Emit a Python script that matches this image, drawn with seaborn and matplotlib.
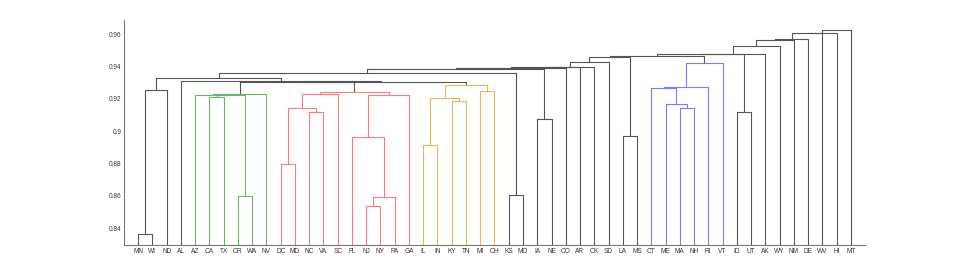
import matplotlib
matplotlib.use("Agg")
import matplotlib.pyplot as plt
import seaborn as sns
import pandas as pd

# ---- data ---------------------------------------------------------------
leaves = ["MN", "WI", "ND", "AL", "AZ", "CA", "TX", "OR", "WA", "NV", "DC", "MD",
          "NC", "VA", "SC", "FL", "NJ", "NY", "PA", "GA", "IL", "IN", "KY", "TN",
          "MI", "OH", "KS", "MO", "IA", "NE", "CO", "AR", "OK", "SD", "LA", "MS",
          "CT", "ME", "MA", "NH", "RI", "VT", "ID", "UT", "AK", "WY", "NM", "DE",
          "WV", "HI", "MT"]

# merges: node n<i> joins merge_a[i] and merge_b[i] at merge_h[i]
merge_a = ["MN", "n0", "OR", "CA", "n3", "AZ", "n5",
           "DC", "NC", "n7", "n9", "NJ", "n11", "FL", "n13", "n10",
           "IL", "KY", "n16", "MI", "n18",
           "n6", "n21", "AL", "n1", "n24", "KS", "n26", "n28", "n29", "n30", "n31",
           "LA", "n32", "MA", "ME", "CT", "n37", "n38", "n34", "ID", "n40", "n42",
           "n43", "n44", "n45", "n46", "n47", "n48"]
merge_b = ["WI", "ND", "WA", "TX", "n2", "n4", "NV",
           "MD", "VA", "n8", "SC", "NY", "PA", "n12", "GA", "n14",
           "IN", "TN", "n17", "OH", "n19",
           "n15", "n20", "n22", "n23", "KS_MO", "MO", "n27", "CO", "AR", "OK", "SD",
           "MS", "n33", "NH", "n35", "n36", "RI", "VT", "n39", "UT", "n41", "AK",
           "WY", "NM", "DE", "WV", "HI", "MT"]
merge_h = [0.8365, 0.9254, 0.8602, 0.9210, 0.9222, 0.9227, 0.9232,
           0.8800, 0.9118, 0.9142, 0.9229, 0.8537, 0.8596, 0.8963, 0.9225, 0.9245,
           0.8914, 0.9189, 0.9203, 0.9251, 0.9288,
           0.9303, 0.9307, 0.9310, 0.9330, 0.9359, 0.8605, 0.9387, 0.9389, 0.9397,
           0.9400, 0.9427,
           0.8969, 0.9462, 0.9142, 0.9167, 0.9267, 0.9271, 0.9424, 0.9465, 0.9118,
           0.9475, 0.9478, 0.9526, 0.9563, 0.9569, 0.9606, 0.9611, 0.9625]

green_group = ["AZ", "CA", "TX", "OR", "WA", "NV"]
red_group = ["DC", "MD", "NC", "VA", "SC", "FL", "NJ", "NY", "PA", "GA"]
orange_group = ["IL", "IN", "KY", "TN", "MI", "OH"]
blue_group = ["CT", "ME", "MA", "NH", "RI", "VT"]

yticks = [0.84, 0.86, 0.88, 0.90, 0.92, 0.94, 0.96]
ytick_labels = ["0.84", "0.86", "0.88", "0.9", "0.92", "0.94", "0.96"]

# ---- build tree geometry -----------------------------------------------
# fix node naming: internal nodes are n0..; KS-MO node is created at index 26
names = {}
pos = {lab: i + 1 for i, lab in enumerate(leaves)}
height = {lab: 0.0 for lab in leaves}
members = {lab: {lab} for lab in leaves}

# resolve the placeholder for KS-MO (merge index 26 -> "n26" in list order)
order = list(range(len(merge_a)))
node_ids = {}
# assign node ids: list index -> node name
# the list was written with KS-MO appearing after n24 merges; map accordingly
label_for_index = {}
k = 0
for i in order:
    label_for_index[i] = None

# explicit naming to keep references consistent
node_names = ["n0", "n1", "n2", "n3", "n4", "n5", "n6",
              "n7", "n8", "n9", "n10", "n11", "n12", "n13", "n14", "n15",
              "n16", "n17", "n18", "n19", "n20",
              "n21", "n22", "n23", "n24", "n26", "KS_MO", "n28", "n29", "n30",
              "n31", "n32",
              "n33", "n34", "n35", "n36", "n37", "n38", "n39", "n40", "n41",
              "n42", "n43", "n44", "n45", "n46", "n47", "n48", "n49"]

# IA-NE node
ia_ne_name = "n27"

groups = {}
for g, lst in (("green", green_group), ("red", red_group),
               ("orange", orange_group), ("blue", blue_group)):
    for s in lst:
        groups[s] = g

rows = []
pending = list(zip(node_names, merge_a, merge_b, merge_h))
# insert IA-NE merge before it is needed
pending.insert(26, (ia_ne_name, "IA", "NE", 0.9078))

done = set()
link = 0
while pending:
    progressed = False
    for item in list(pending):
        nm, a, b, h = item
        if a in pos and b in pos:
            xa, xb = pos[a], pos[b]
            ya, yb = height[a], height[b]
            mem = members[a] | members[b]
            gs = {groups.get(s, "black") for s in mem}
            grp = gs.pop() if len(gs) == 1 else "black"
            for (x, y) in ((xa, ya), (xa, h), (xb, h), (xb, yb)):
                rows.append({"link": link, "x": x, "y": y, "group": grp})
            link += 1
            pos[nm] = (xa + xb) / 2.0
            height[nm] = h
            members[nm] = mem
            pending.remove(item)
            progressed = True
    if not progressed:
        break

df = pd.DataFrame(rows)

# ---- plot ---------------------------------------------------------------
sns.set_theme(style="white")
plt.rcParams["font.family"] = ["Liberation Sans", "DejaVu Sans"]

fig = plt.figure(figsize=(9.55, 2.74), dpi=100)
ax = fig.add_axes([0.1298, 0.1058, 0.776, 0.821])

palette = {"black": "#555555", "green": "#66b866", "red": "#ff7a7a",
           "orange": "#f3b35a", "blue": "#7a7aff"}
sns.lineplot(data=df, x="x", y="y", units="link", estimator=None, sort=False,
             hue="group", palette=palette, legend=False, linewidth=0.8, ax=ax)

ax.set_xlim(0, len(leaves) + 1)
ax.set_ylim(0.8296, 0.9688)
ax.set_xticks(range(1, len(leaves) + 1))
ax.set_xticklabels(leaves)
ax.set_yticks(yticks)
ax.set_yticklabels(ytick_labels)
ax.set_xlabel("")
ax.set_ylabel("")
for s in ("top", "right"):
    ax.spines[s].set_visible(False)
for s in ("left", "bottom"):
    ax.spines[s].set_color("#777777")
    ax.spines[s].set_linewidth(0.8)
ax.tick_params(axis="both", direction="in", colors="#555555", labelcolor="#333333",
               labelsize=4.7, width=0.6)
ax.tick_params(axis="y", length=5, pad=2)
ax.tick_params(axis="x", length=3.5, pad=2)

fig.savefig("out.png", dpi=100)
